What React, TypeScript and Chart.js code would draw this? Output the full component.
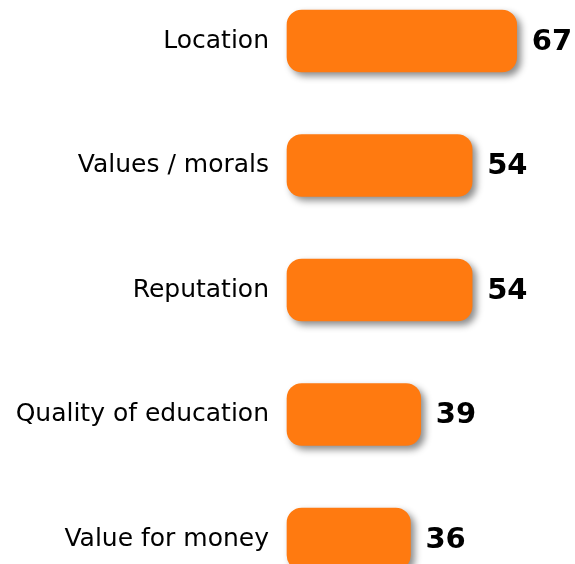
import React, { useEffect, useRef } from "react";
import { Chart, registerables } from "chart.js";

Chart.register(...registerables);

const categories = ["Location", "Values / morals", "Reputation", "Quality of education", "Value for money"];
const values = [67, 54, 54, 39, 36];

const BAR_COLOR = "#FF7A10";

const shadowPlugin = {
  id: "barShadow",
  beforeDatasetsDraw(chart: any) {
    const ctx = chart.ctx;
    ctx.save();
    ctx.shadowColor = "rgba(0,0,0,0.45)";
    ctx.shadowBlur = 7;
    ctx.shadowOffsetX = 4;
    ctx.shadowOffsetY = 4;
  },
  afterDatasetsDraw(chart: any) {
    const ctx = chart.ctx;
    ctx.restore();
    const meta = chart.getDatasetMeta(0);
    ctx.save();
    ctx.fillStyle = "#000";
    ctx.font = "bold 29px 'DejaVu Sans'";
    ctx.textAlign = "left";
    ctx.textBaseline = "middle";
    meta.data.forEach((el: any, i: number) => {
      ctx.fillText(String(values[i]), el.x + 15, el.y + 1);
    });
    ctx.restore();
  },
};

export default function App() {
  const ref = useRef<HTMLCanvasElement>(null);
  useEffect(() => {
    if (!ref.current) return;
    const chart = new Chart(ref.current, {
      type: "bar",
      data: {
        labels: categories,
        datasets: [
          {
            data: values,
            backgroundColor: BAR_COLOR,
            borderWidth: 0,
            borderRadius: 15,
            borderSkipped: false,
            barThickness: 62,
            clip: false as any,
          },
        ],
      },
      options: {
        indexAxis: "y",
        animation: false,
        responsive: true,
        maintainAspectRatio: false,
        layout: { padding: { top: 41, bottom: 20, left: 0, right: 0 } },
        plugins: { legend: { display: false }, tooltip: { enabled: false } },
        scales: {
          x: { display: false, min: 0, max: 84 },
          y: {
            offset: false,
            grid: { display: false },
            border: { display: false },
            ticks: {
              color: "#000",
              padding: 10,
              font: { family: "'DejaVu Sans'", size: 25 },
            },
            afterFit(scale: any) {
              scale.width = 287;
            },
          },
        },
      },
      plugins: [shadowPlugin],
    });
    return () => chart.destroy();
  }, []);
  return (
    <div style={{ position: "fixed", left: 0, top: 0, width: 575, height: 564, background: "#fff" }}>
      <canvas ref={ref} />
    </div>
  );
}
